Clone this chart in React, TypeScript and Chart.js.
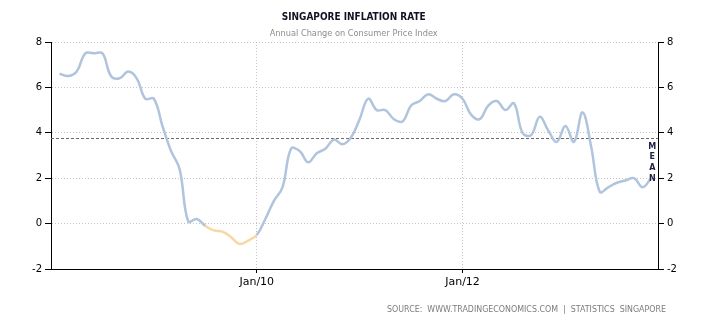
import React, { useEffect, useRef } from "react";
import { Chart, registerables } from "chart.js";

Chart.register(...registerables);

// Monthly readings (data dated at month end, so each sits one month after the month's start)
const MONTHS = [
  "2008-01", "2008-02", "2008-03", "2008-04", "2008-05", "2008-06", "2008-07", "2008-08", "2008-09", "2008-10", "2008-11", "2008-12",
  "2009-01", "2009-02", "2009-03", "2009-04", "2009-05", "2009-06", "2009-07", "2009-08", "2009-09", "2009-10", "2009-11", "2009-12",
  "2010-01", "2010-02", "2010-03", "2010-04", "2010-05", "2010-06", "2010-07", "2010-08", "2010-09", "2010-10", "2010-11", "2010-12",
  "2011-01", "2011-02", "2011-03", "2011-04", "2011-05", "2011-06", "2011-07", "2011-08", "2011-09", "2011-10", "2011-11", "2011-12",
  "2012-01", "2012-02", "2012-03", "2012-04", "2012-05", "2012-06", "2012-07", "2012-08", "2012-09", "2012-10", "2012-11", "2012-12",
  "2013-01", "2013-02", "2013-03", "2013-04", "2013-05", "2013-06", "2013-07", "2013-08", "2013-09", "2013-10",
];

const INFLATION = [
  6.6, 6.5, 6.7, 7.5, 7.5, 7.5, 6.5, 6.4, 6.7, 6.4, 5.5, 5.5,
  4.3, 3.2, 2.4, 0.1, 0.2, -0.1, -0.3, -0.35, -0.6, -0.9, -0.75, -0.5,
  0.2, 1.0, 1.6, 3.3, 3.2, 2.7, 3.1, 3.3, 3.7, 3.5, 3.8, 4.6,
  5.5, 5.0, 5.0, 4.6, 4.5, 5.2, 5.4, 5.7, 5.5, 5.4, 5.7, 5.5,
  4.8, 4.6, 5.2, 5.4, 5.0, 5.3, 4.0, 3.9, 4.7, 4.1, 3.6, 4.3,
  3.6, 4.9, 3.4, 1.4, 1.6, 1.8, 1.9, 2.0, 1.6, 2.0,
];

const MEAN_VALUE = 3.77;
const HIGHLIGHT_FROM = "2009-06";
const HIGHLIGHT_TO = "2009-12";

const X_TICK_MONTHS = ["2010-01", "2012-01"];
const X_TICK_LABELS = ["Jan/10", "Jan/12"];
const Y_MIN = -2;
const Y_MAX = 8;
const Y_STEP = 2;

const TITLE = "SINGAPORE INFLATION RATE";
const SUBTITLE = "Annual Change on Consumer Price Index";
const SOURCE = "SOURCE:  WWW.TRADINGECONOMICS.COM  |  STATISTICS  SINGAPORE";
const MEAN_LABEL = "MEAN";

const BLUE = "#b0c4de";
const ORANGE = "#f7d8a4";
const GRID = "#c4c4c4";

// month index from Jan 2008 start
const monthStart = (m: string) => {
  const [y, mo] = m.split("-").map(Number);
  return (y - 2008) * 12 + (mo - 1);
};
const monthEnd = (m: string) => monthStart(m) + 1;

const fitText = (
  ctx: CanvasRenderingContext2D,
  text: string,
  x: number,
  y: number,
  font: string,
  color: string,
  width: number,
  align: CanvasTextAlign
) => {
  ctx.save();
  ctx.font = font;
  const w = ctx.measureText(text).width;
  const sx = width / w;
  ctx.translate(x, y);
  ctx.scale(sx, 1);
  ctx.textAlign = align;
  ctx.textBaseline = "middle";
  ctx.fillStyle = color;
  ctx.fillText(text, 0, 0);
  ctx.restore();
};

const decorPlugin = {
  id: "decor",
  beforeDatasetsDraw(chart: any) {
    const { ctx, chartArea } = chart;
    const y = chart.scales.y.getPixelForValue(MEAN_VALUE);
    ctx.save();
    ctx.strokeStyle = "#6a6a6a";
    ctx.lineWidth = 1;
    ctx.setLineDash([3, 2]);
    ctx.beginPath();
    ctx.moveTo(chartArea.left, Math.round(y) + 0.5);
    ctx.lineTo(chartArea.right, Math.round(y) + 0.5);
    ctx.stroke();
    ctx.restore();
  },
  afterDraw(chart: any) {
    const { ctx, chartArea } = chart;
    const cx = 353.7;
    fitText(ctx, TITLE, cx, 17.5, "bold 11px 'DejaVu Sans Condensed', 'DejaVu Sans'", "#111122", 144, "center");
    fitText(ctx, SUBTITLE, cx, 33.5, "9px 'DejaVu Sans'", "#8c8c8c", 168, "center");
    fitText(ctx, SOURCE, 666, 310, "8px 'DejaVu Sans'", "#7c7c7c", 279, "right");
    ctx.save();
    ctx.font = "bold 8px 'DejaVu Sans'";
    ctx.fillStyle = "#222244";
    ctx.textAlign = "center";
    ctx.textBaseline = "middle";
    const letters = MEAN_LABEL.split("");
    const yMean = chart.scales.y.getPixelForValue(MEAN_VALUE);
    letters.forEach((ch, i) => {
      ctx.fillText(ch, chartArea.right - 5.7, yMean + 8.5 + i * 10.7);
    });
    ctx.restore();
  },
};

export default function App() {
  const ref = useRef<HTMLCanvasElement | null>(null);

  useEffect(() => {
    if (!ref.current) return;
    const points = MONTHS.map((m, i) => ({ x: monthEnd(m), y: INFLATION[i] }));
    const hFrom = monthEnd(HIGHLIGHT_FROM) - 0.2;
    const hTo = monthEnd(HIGHLIGHT_TO);
    const xTicks = X_TICK_MONTHS.map(monthStart);
    const xMax = monthEnd(MONTHS[MONTHS.length - 1]) + 0.8;

    const gridColor = (c: any) => (c.tick && c.tick.value === Y_MIN ? "rgba(0,0,0,0)" : GRID);

    const chart = new Chart(ref.current, {
      type: "line",
      data: {
        datasets: [
          {
            data: points,
            borderColor: BLUE,
            borderWidth: 2.5,
            pointRadius: 0,
            tension: 0.4,
            fill: false,
            yAxisID: "y",
            segment: {
              borderColor: (c: any) =>
                c.p0.parsed.x >= hFrom && c.p1.parsed.x <= hTo ? ORANGE : BLUE,
            },
          },
        ],
      },
      options: {
        responsive: false,
        animation: false,
        devicePixelRatio: 1,
        layout: { padding: { top: 42, bottom: 36, left: 0, right: 0 } },
        plugins: {
          legend: { display: false },
          tooltip: { enabled: false },
        },
        scales: {
          x: {
            type: "linear",
            min: 0,
            max: xMax,
            afterBuildTicks: (s: any) => {
              s.ticks = xTicks.map((v) => ({ value: v }));
            },
            afterFit: (s: any) => {
              s.height = 20;
            },
            ticks: {
              autoSkip: false,
              maxRotation: 0,
              padding: 3,
              color: "#000",
              font: { family: "'DejaVu Sans'", size: 11 },
              callback: (v: any) => {
                const idx = xTicks.indexOf(Number(v));
                return idx >= 0 ? X_TICK_LABELS[idx] : "";
              },
            },
            grid: {
              color: GRID,
              lineWidth: 1,
              tickColor: "#000",
              tickLength: 4,
              tickBorderDash: [],
            },
            border: { color: "#000", width: 1, dash: [1, 2] },
          },
          y: {
            position: "left",
            min: Y_MIN,
            max: Y_MAX,
            afterFit: (s: any) => {
              s.width = 51;
            },
            ticks: {
              stepSize: Y_STEP,
              padding: 3,
              color: "#000",
              font: { family: "'DejaVu Sans'", size: 10 },
            },
            grid: {
              color: gridColor,
              lineWidth: 1,
              tickColor: "#000",
              tickLength: 6,
              tickBorderDash: [],
            },
            border: { color: "#000", width: 1, dash: [1, 2] },
          },
          y2: {
            position: "right",
            min: Y_MIN,
            max: Y_MAX,
            afterFit: (s: any) => {
              s.width = 52;
            },
            ticks: {
              stepSize: Y_STEP,
              padding: 3,
              color: "#000",
              font: { family: "'DejaVu Sans'", size: 10 },
            },
            grid: {
              drawOnChartArea: false,
              tickColor: "#000",
              tickLength: 6,
              tickBorderDash: [],
            },
            border: { color: "#000", width: 1 },
          },
        },
      },
      plugins: [decorPlugin],
    } as any);

    return () => chart.destroy();
  }, []);

  return (
    <div style={{ position: "fixed", left: 0, top: 0, width: 710, height: 325, background: "#fff" }}>
      <canvas ref={ref} width={710} height={325} style={{ width: 710, height: 325 }} />
    </div>
  );
}
